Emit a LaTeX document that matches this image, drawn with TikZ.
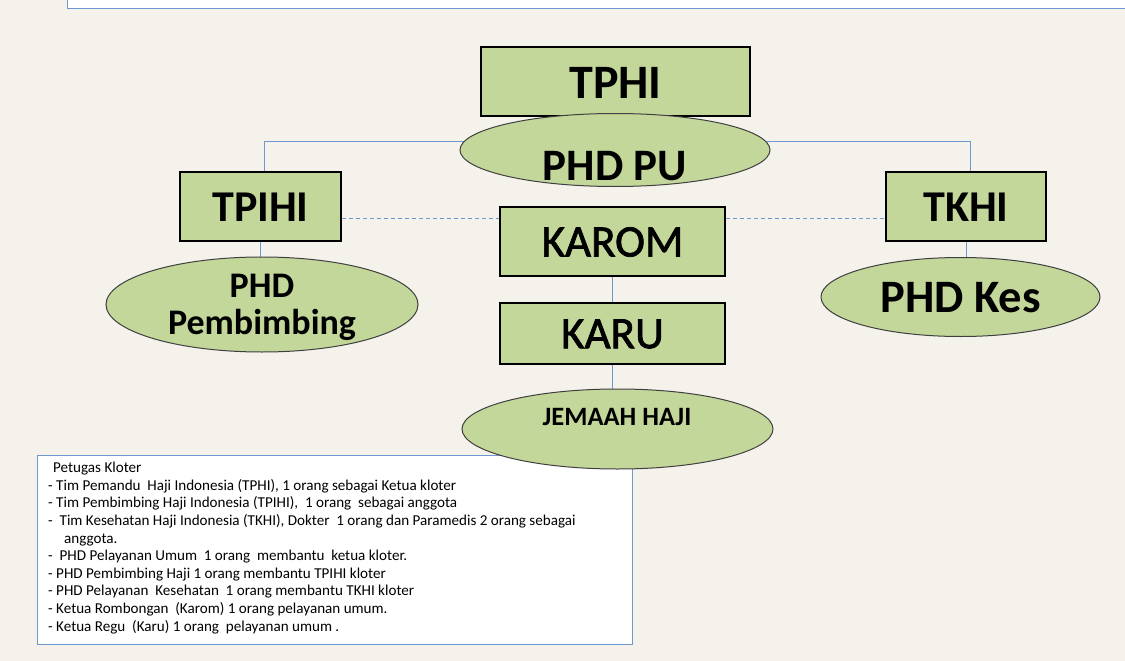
\documentclass[tikz,border=0pt]{standalone}
\usepackage{fontspec}
\setmainfont{Carlito}
\newfontfamily\medfont[FakeBold=1.6]{Carlito}
\usetikzlibrary{shapes.geometric,backgrounds}
\pgfdeclarelayer{bottom}
\pgfdeclarelayer{background}
\pgfsetlayers{bottom,background,main}
\definecolor{bgc}{HTML}{F4F2EB}
\definecolor{boxg}{HTML}{C4D79B}
\definecolor{lineb}{HTML}{6F98CF}
\definecolor{elb}{HTML}{3F3F3F}
\tikzset{
  orgbox/.style={draw=black, line width=1.2pt, fill=boxg, rectangle, inner sep=0pt},
  orgell/.style={draw=elb, line width=1pt, fill=boxg, ellipse, inner sep=0pt},
  conn/.style={draw=lineb, line width=1pt},
  dconn/.style={draw=lineb, line width=1pt, dash pattern=on 4pt off 3pt},
  lbl/.style={inner sep=0pt, font=\bfseries}
}
\begin{document}
\begin{tikzpicture}[x=1pt,y=-1pt]
\useasboundingbox (0,0) rectangle (1125,661);
\begin{pgfonlayer}{bottom}
\fill[bgc] (0,0) rectangle (1125,661);
% top white box
\fill[white] (67,-5) rectangle (1130,9);
\draw[lineb, line width=1pt] (67,-5) -- (67,9) -- (1130,9);
\end{pgfonlayer}

% boxes
\node[orgbox, minimum width=269pt, minimum height=69pt] (tphi) at (615.5,81.5) {};
\node[lbl, font=\bfseries\fontsize{48}{48}\selectfont] (tphit) at (615.5,83) {TPHI};
\node[orgbox, minimum width=161pt, minimum height=69pt] (tpihi) at (260.5,206.5) {};
\node[lbl, font=\bfseries\fontsize{44}{44}\selectfont] (tpihit) at (260.5,207) {TPIHI};
\node[orgbox, minimum width=160pt, minimum height=69pt] (tkhi) at (966,206.5) {};
\node[lbl, font=\bfseries\fontsize{44}{44}\selectfont] (tkhit) at (966,207) {TKHI};
\node[orgbox, minimum width=225pt, minimum height=69pt] (karom) at (612.5,241.5) {};
\node[inner sep=0pt, font=\medfont\fontsize{45}{45}\selectfont] (karomt) at (612.5,242) {KAROM};
\node[orgbox, minimum width=225pt, minimum height=61pt] (karu) at (612.5,333.5) {};
\node[inner sep=0pt, font=\medfont\fontsize{45}{45}\selectfont] (karut) at (612.5,334) {KARU};

% note box
\node[draw=lineb, line width=1pt, fill=white, rectangle, minimum width=595pt, minimum height=189pt, inner sep=0pt] (note) at (334.5,549.5) {};
\node[anchor=north west, align=left, inner sep=0pt, font=\fontsize{15.1}{17.6}\selectfont] (notet) at (48,462) {%
\hspace*{5pt}Petugas Kloter\\
- Tim Pemandu\ \ Haji Indonesia (TPHI), 1 orang sebagai Ketua kloter\\
- Tim Pembimbing Haji Indonesia (TPIHI),\ \ 1 orang\ \ sebagai anggota\\
-\ \ Tim Kesehatan Haji Indonesia (TKHI), Dokter\ \ 1 orang dan Paramedis 2 orang sebagai\\
\hspace*{16pt}anggota.\\
-\ \ PHD Pelayanan Umum\ \ 1 orang\ \ membantu\ \ ketua kloter.\\
- PHD Pembimbing Haji 1 orang membantu TPIHI kloter\\
- PHD Pelayanan\ \ Kesehatan\ \ 1 orang membantu TKHI kloter\\
- Ketua Rombongan\ \ (Karom) 1 orang pelayanan umum.\\
- Ketua Regu\ \ (Karu) 1 orang\ \ pelayanan umum .};

% ellipses
\node[orgell, minimum width=310pt, minimum height=73pt] (phdpu) at (615,150) {};
\node[lbl, font=\bfseries\fontsize{45}{45}\selectfont] (phdput) at (615,166) {PHD PU};
\node[orgell, minimum width=312pt, minimum height=95pt] (phdpem) at (262,304.5) {};
\node[lbl, align=center, font=\bfseries\fontsize{36}{37}\selectfont] (phdpemt) at (262,307) {PHD\\Pembimbing};
\node[orgell, minimum width=279pt, minimum height=79pt] (phdkes) at (960.5,297) {};
\node[lbl, font=\bfseries\fontsize{46.5}{46.5}\selectfont] (phdkest) at (960.5,298) {PHD Kes};
\node[orgell, minimum width=311pt, minimum height=80pt] (jemaah) at (617.5,429) {};
\node[lbl, font=\bfseries\fontsize{26.5}{26.5}\selectfont] (jemaaht) at (617,417) {JEMAAH HAJI};

% connectors
\begin{pgfonlayer}{background}
\coordinate (hl) at (264,141);
\coordinate (hr) at (970,141);
\draw[conn] (tphi.south) -- (615,141);
\draw[conn] (tpihi.north -| hl) -- (hl) -- (hr) -- (tkhi.north -| hr);
\draw[conn] (tpihi.south) -- (tpihi.south |- phdpem.center);
\draw[conn] (tkhi.south) -- (tkhi.south |- phdkes.center);
\draw[conn] (karom.south) -- (karu.north);
\draw[conn] (karu.south) -- (karu.south |- jemaah.center);
\draw[dconn] (tpihi.east |- 0,218) -- (karom.west |- 0,218);
\draw[dconn] (karom.east |- 0,218) -- (tkhi.west |- 0,218);
\end{pgfonlayer}
\end{tikzpicture}
\end{document}
